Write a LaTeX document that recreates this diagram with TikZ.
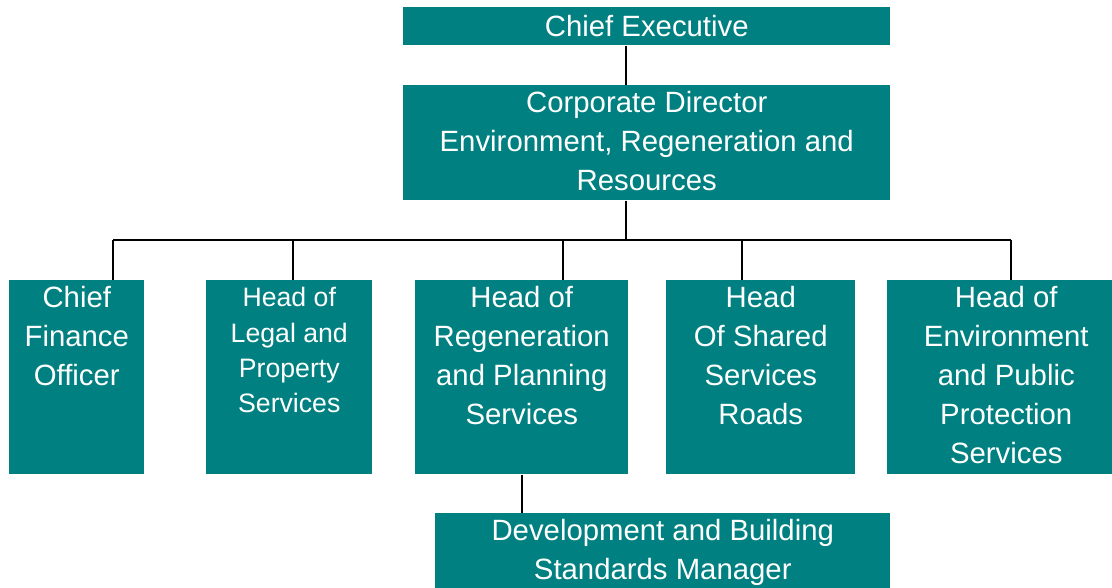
\documentclass[tikz,border=0pt]{standalone}
\usepackage{fontspec}
\setmainfont{Liberation Sans}
\definecolor{unitfill}{HTML}{008080}

\begin{document}
\begin{tikzpicture}[%
    x=0.75pt, y=-0.75pt,
    unit/.style={fill=unitfill, anchor=north west, inner sep=0pt, text=white,
      align=center, font=\fontsize{22}{29.25}\selectfont},
    heading/.style={anchor=north, inner sep=4.5pt, text=white, align=center,
      font=\fontsize{22}{29.25}\selectfont},
    smallheading/.style={heading, inner sep=5.5pt, font=\fontsize{20}{26.5}\selectfont},
    link/.style={draw=black, line width=1.5pt}]
  \useasboundingbox (0,0) rectangle (1112,587);

  \node[unit, minimum width=365.25pt, minimum height=28.5pt] (ce) at (403,7) {Chief Executive};
  \node[unit, minimum width=365.25pt, minimum height=86.25pt, text depth=3pt] (cd) at (403,85)
    {Corporate Director\\Environment, Regeneration and\\Resources};

  \node[unit, minimum width=101.25pt, minimum height=145.5pt,
    label={[heading, name=cfo-text]north:Chief\\Finance\\Officer}] (cfo) at (9,280) {};
  \node[unit, minimum width=124.5pt, minimum height=145.5pt,
    label={[smallheading, name=legal-text]north:Head of\\Legal and\\Property\\Services}] (legal) at (206,280) {};
  \node[unit, minimum width=159.75pt, minimum height=145.5pt,
    label={[heading, name=regen-text]north:Head of\\Regeneration\\and Planning\\Services}] (regen) at (415,280) {};
  \node[unit, minimum width=141.75pt, minimum height=145.5pt,
    label={[heading, name=shared-text]north:Head\\Of Shared\\Services\\Roads}] (shared) at (666,280) {};
  \node[unit, minimum width=178.5pt, minimum height=145.5pt,
    label={[heading, name=env-text]north:Head of\\Environment\\and Public\\Protection\\Services}] (env) at (887,280) {};

  \node[unit, minimum width=341.25pt, minimum height=58.5pt] (dev) at (435,513)
    {Development and Building\\Standards Manager};

  \coordinate (trunk) at (626,240);
  \coordinate (cfo-in) at (113,240);
  \coordinate (legal-in) at (293,240);
  \coordinate (regen-in) at (563,240);
  \coordinate (shared-in) at (742,240);
  \coordinate (env-in) at (1011,240);

  \draw[link] (trunk |- ce.south) -- (trunk |- cd.north);
  \draw[link] (trunk |- cd.south) -- (trunk);
  \draw[link] (cfo-in) -- (env-in);
  \foreach \u in {cfo,legal,regen,shared,env}
    \draw[link] (\u-in) -- (\u-in |- \u.north);
  \draw[link] (regen.south) -- (regen.south |- dev.north);
\end{tikzpicture}
\end{document}
